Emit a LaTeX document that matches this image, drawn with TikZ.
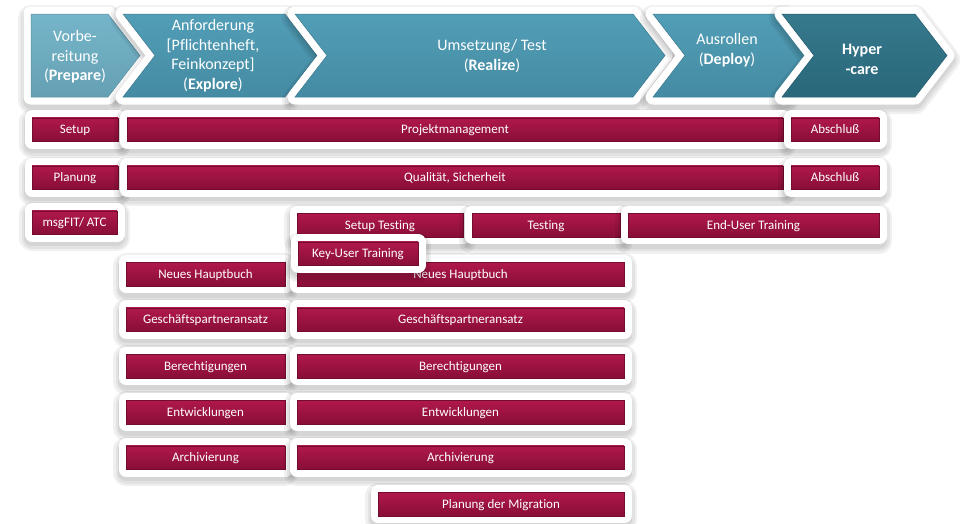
\documentclass[tikz,border=0pt]{standalone}
\usepackage{fontspec}
\setmainfont{Carlito}[Ligatures=NoCommon]

\definecolor{phaseA}{HTML}{70B2C7}
\definecolor{phaseB}{HTML}{4B9AB4}
\definecolor{phaseC}{HTML}{2E7388}
\definecolor{barA}{HTML}{B0184B}
\definecolor{barB}{HTML}{880E37}

\tikzset{
softshadow/.style={preaction={draw=black, draw opacity=0.06, line width=#1, line join=round, transform canvas={yshift=-4pt}}},
framed/.style={softshadow=26pt, softshadow=21pt, softshadow=16pt, preaction={draw=white, line width=15pt, line join=round}},
task/.style={framed, rectangle, inner sep=0pt, minimum height=23.5pt, text height=10pt, text depth=1.5pt, top color=barA, bottom color=barB, draw=barB!85!black, line width=0.5pt, text=white, font=\fontsize{13}{14}\selectfont},
phase/.style={framed, draw=#1!80!black, line width=0.5pt, top color=#1!96!white, bottom color=#1!90!black},
phasetext/.style={text=white, align=center, font=\fontsize{16}{19.5}\selectfont}
}

\begin{document}
\begin{tikzpicture}[x=1pt, y=-1pt]
\useasboundingbox (0,0) rectangle (963,523);

% phases
\path[phase=phaseA] (31,14) -- (108,14) -- (140,55.5) -- (108,97) -- (31,97) -- cycle;
\path[phase=phaseB] (123,14) -- (285,14) -- (317,55.5) -- (285,97) -- (123,97) -- (155,55.5) -- cycle;
\path[phase=phaseB] (295,14) -- (633,14) -- (665,55.5) -- (633,97) -- (295,97) -- (327,55.5) -- cycle;
\path[phase=phaseB] (653,14) -- (785,14) -- (817,55.5) -- (785,97) -- (653,97) -- (685,55.5) -- cycle;
\path[phase=phaseC] (782,14) -- (915,14) -- (947,55.5) -- (915,97) -- (782,97) -- (814,55.5) -- cycle;

\node[phasetext] (prepare) at (75,57) {Vorbe-\\reitung\\(\textbf{Prepare})};
\node[phasetext] (explore) at (213,55.5) {Anforderung\\{[}Pflichtenheft,\\Feinkonzept{]}\\(\textbf{Explore})};
\node[phasetext] (realize) at (492,56) {Umsetzung/ Test\\(\textbf{Realize})};
\node[phasetext] (deploy) at (727,50) {Ausrollen\\(\textbf{Deploy})};
\node[phasetext, font=\fontsize{16}{20}\selectfont\bfseries] (hypercare) at (862,59) {Hyper\\-care};

% general tasks
\node[task, minimum width=86pt] (setup) at (75,129.5) {Setup};
\node[task, minimum width=656pt] (pm) at (455,129.5) {Projektmanagement};
\node[task, minimum width=88pt] (close1) at (835,129.5) {Abschluß};

\node[task, minimum width=86pt] (plan) at (75,177.5) {Planung};
\node[task, minimum width=656pt] (qs) at (455,177.5) {Qualität, Sicherheit};
\node[task, minimum width=88pt] (close2) at (835,177.5) {Abschluß};

\node[task, minimum width=85pt] (atc) at (74.5,222.5) {msgFIT/ ATC};
\node[task, minimum width=166pt] (setuptest) at (380,225) {Setup Testing};
\node[task, minimum width=148pt] (test) at (546,225) {Testing};
\node[task, minimum width=251pt] (euser) at (753.5,225) {End-User Training};

% work streams
\node[task, minimum width=159pt] (glL) at (205.5,274) {Neues Hauptbuch};
\node[task, minimum width=327pt] (glR) at (460.5,274) {Neues Hauptbuch};
\node[task, minimum width=159pt] (bpL) at (205.5,319.5) {Geschäftspartneransatz};
\node[task, minimum width=327pt] (bpR) at (460.5,319.5) {Geschäftspartneransatz};
\node[task, minimum width=159pt] (authL) at (205.5,366) {Berechtigungen};
\node[task, minimum width=327pt] (authR) at (460.5,366) {Berechtigungen};
\node[task, minimum width=159pt] (devL) at (205.5,412) {Entwicklungen};
\node[task, minimum width=327pt] (devR) at (460.5,412) {Entwicklungen};
\node[task, minimum width=159pt] (arcL) at (205.5,457.5) {Archivierung};
\node[task, minimum width=327pt] (arcR) at (460.5,457.5) {Archivierung};
\node[task, minimum width=246pt] (migr) at (501,504) {Planung der Migration};

\node[task, minimum width=120pt] (kuser) at (358,253.5) {Key-User Training};
\end{tikzpicture}
\end{document}
